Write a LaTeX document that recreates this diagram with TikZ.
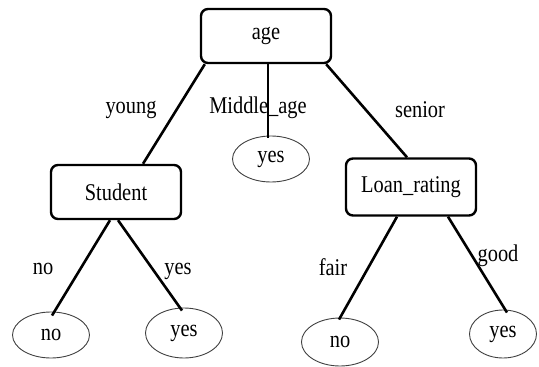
\documentclass[tikz,border=0pt]{standalone}
\usepackage{fontspec}
\setmainfont{Liberation Serif}[FakeStretch=0.85]
\usetikzlibrary{shapes.geometric}

\begin{document}
\begin{tikzpicture}[x=1pt,y=-1pt,font=\fontsize{24}{28}\selectfont,
    attr/.style={draw,rectangle,rounded corners=7pt,line width=2.4pt,
                 inner sep=0pt,minimum width=130pt,minimum height=54pt},
    leaf/.style={draw=black!75,ellipse,line width=0.9pt,inner sep=0pt,
                 minimum width=77pt,minimum height=46pt},
    edge/.style={line width=2.6pt},
    lbl/.style={inner sep=0pt}]
    \useasboundingbox (0,0) rectangle (539,367);
    % internal nodes
    \node[attr] (age) at (266,36) {age};
    \node[attr] (stu) at (116,192) {Student};
    \node[attr,minimum height=57pt] (loan) at (411,187) {Loan\_rating};
    % leaves
    \node[leaf] (mid) at (271,159) {yes};
    \node[leaf] (sno) at (51,335) {no};
    \node[leaf,minimum height=50pt] (syes) at (184,333) {yes};
    \node[leaf,minimum height=48pt] (lno) at (340,342) {no};
    \node[leaf,minimum width=67pt,minimum height=48pt] (lyes) at (503,334) {yes};
    % branches
    \draw[edge] ([xshift=5pt]age.south west) -- ([xshift=27pt]stu.north);
    \draw[edge] ([xshift=2pt]age.south) -- ([xshift=-3pt,yshift=-2pt]mid.north);
    \draw[edge] ([xshift=-6pt]age.south east) -- ([xshift=-4pt]loan.north);
    \draw[edge] ([xshift=-6pt]stu.south) -- ([xshift=1pt,yshift=-4pt]sno.north);
    \draw[edge] ([xshift=2pt]stu.south) -- ([xshift=-2pt,yshift=-3pt]syes.north);
    \draw[edge] ([xshift=-14pt]loan.south) -- ([xshift=-1pt,yshift=-2pt]lno.north);
    \draw[edge] ([xshift=37pt]loan.south) -- ([xshift=4pt,yshift=-3pt]lyes.north);
    % branch labels
    \node[lbl] (ly) at (131,110) {young};
    \node[lbl] (lm) at (258,108) {Middle\_age};
    \node[lbl] (ls) at (420,110) {senior};
    \node[lbl] (lsn) at (43,269) {no};
    \node[lbl] (lsy) at (178,271) {yes};
    \node[lbl] (lf) at (333,267) {fair};
    \node[lbl] (lg) at (498,256) {good};
\end{tikzpicture}
\end{document}
